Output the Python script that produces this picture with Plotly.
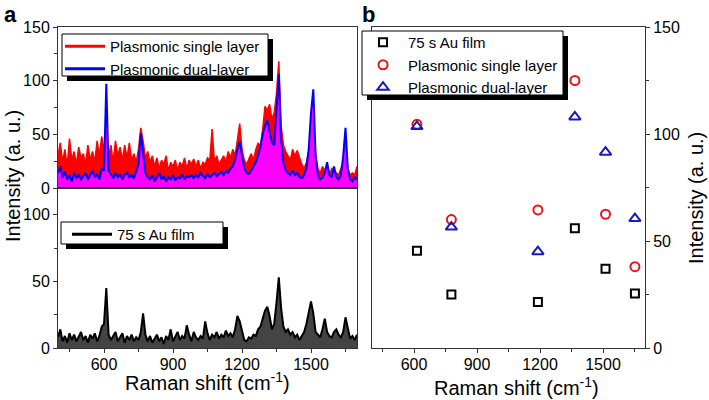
import plotly.graph_objects as go

shift_start, shift_stop, shift_step = 400, 1700, 10
raman_shift = list(range(shift_start, shift_stop + 1, shift_step))

single_layer = [
    30, 42, 24, 36, 20, 46, 26, 34, 22, 38,
    28, 32, 22, 40, 26, 34, 24, 44, 30, 48,
    36, 52, 30, 40, 24, 44, 30, 38, 26, 40,
    28, 42, 26, 32, 24, 36, 56, 44, 28, 34,
    24, 30, 20, 28, 18, 26, 22, 30, 16, 24,
    20, 26, 16, 24, 20, 28, 18, 26, 22, 27,
    20, 26, 18, 24, 22, 28, 26, 55, 24, 30,
    22, 26, 30, 24, 34, 28, 36, 30, 44, 60,
    36, 26, 22, 28, 32, 26, 36, 42, 38, 55,
    76, 72, 78, 64, 70, 88, 118, 58, 40, 34,
    30, 26, 36, 30, 35, 28, 22, 18, 24, 34,
    44, 60, 32, 18, 14, 20, 16, 22, 12, 18,
    16, 14, 12, 18, 22, 40, 18, 12, 14, 12,
    20,
]

dual_layer = [
    14, 20, 10, 15, 8, 12, 6, 14, 9, 12,
    8, 11, 14, 8, 12, 16, 10, 13, 8, 18,
    16, 97, 16, 12, 9, 14, 10, 13, 8, 12,
    14, 10, 12, 9, 16, 22, 51, 30, 14, 10,
    8, 12, 6, 10, 14, 8, 11, 6, 10, 8,
    12, 7, 10, 9, 13, 8, 11, 10, 12, 9,
    12, 10, 14, 11, 9, 13, 10, 12, 14, 11,
    13, 15, 12, 16, 14, 18, 20, 26, 36, 43,
    30, 18, 14, 13, 16, 20, 24, 30, 38, 50,
    58, 63, 54, 42, 40, 78, 106, 44, 24, 16,
    14, 12, 16, 12, 14, 10, 9, 12, 18, 36,
    70, 92, 30, 12, 8, 10, 14, 24, 12, 10,
    20, 10, 8, 12, 30, 56, 18, 8, 6, 10,
    8,
]

au_film = [
    8, 14, 5, 9, 4, 11, 6, 10, 5, 8,
    12, 6, 9, 4, 10, 7, 11, 5, 9, 16,
    18, 45, 10, 6, 9, 12, 5, 8, 11, 4,
    9, 6, 10, 5, 8, 6, 12, 26, 10, 5,
    9, 4, 7, 10, 5, 8, 3, 9, 6, 14,
    5, 8, 12, 6, 9, 7, 17, 10, 5, 12,
    8, 6, 9, 7, 20, 11, 6, 10, 8, 12,
    7, 10, 8, 13, 9, 11, 8, 14, 24, 20,
    12, 6, 5, 8, 7, 10, 9, 14, 16, 22,
    28, 31, 24, 14, 18, 34, 53, 30, 16, 12,
    14, 10, 12, 8, 10, 6, 9, 12, 18, 28,
    35, 26, 12, 10, 8, 14, 22, 12, 9, 8,
    12, 14, 10, 8, 12, 23, 14, 7, 9, 6,
    10,
]

# Peak intensities (panel b)
peak_shift = [614, 778, 1190, 1366, 1512, 1652]
peak_au_film = [45.5, 25, 21.5, 56, 37, 25.5]
peak_single = [104.5, 60, 64.5, 125, 62.5, 38]
peak_dual = [103.5, 56.5, 45, 108, 91.5, 60.5]

W, H = 709, 400
FONT = "Liberation Sans, Arial, sans-serif"


def px_x(p):
    return p / W


def px_y(p):
    return 1 - p / H


# 2. BUILD TRACES
fig = go.Figure()

fig.add_trace(go.Scatter(x=raman_shift, y=single_layer, name="Plasmonic single layer",
                         mode="lines", line=dict(color="#ff0000", width=1.5),
                         fill="tozeroy", fillcolor="#ff0000", showlegend=False,
                         xaxis="x", yaxis="y"))
fig.add_trace(go.Scatter(x=raman_shift, y=dual_layer, name="Plasmonic dual-layer",
                         mode="lines", line=dict(color="#0000ff", width=2),
                         fill="tozeroy", fillcolor="#ff00ff", showlegend=False,
                         xaxis="x", yaxis="y"))
fig.add_trace(go.Scatter(x=raman_shift, y=au_film, name="75 s Au film",
                         mode="lines", line=dict(color="#000000", width=2),
                         fill="tozeroy", fillcolor="#444444", showlegend=False,
                         xaxis="x2", yaxis="y2"))

# legend keys drawn as plain lines, like the original
for name, color, leg in [("Plasmonic single layer", "#ff0000", "legend"),
                         ("Plasmonic dual-layer", "#0000ff", "legend"),
                         ("75 s Au film", "#000000", "legend2")]:
    fig.add_trace(go.Scatter(x=[None], y=[None], name=name, mode="lines",
                             line=dict(color=color, width=3),
                             xaxis="x" if leg == "legend" else "x2",
                             yaxis="y" if leg == "legend" else "y2", legend=leg))

fig.add_trace(go.Scatter(x=peak_shift, y=peak_au_film, name="75 s Au film", mode="markers",
                         marker=dict(symbol="square-open", size=8, color="#000000", line=dict(width=2)),
                         xaxis="x3", yaxis="y3", legend="legend3"))
fig.add_trace(go.Scatter(x=peak_shift, y=peak_single, name="Plasmonic single layer", mode="markers",
                         marker=dict(symbol="circle-open", size=9, color="#e8141c", line=dict(width=2)),
                         xaxis="x3", yaxis="y3", legend="legend3"))
fig.add_trace(go.Scatter(x=peak_shift, y=peak_dual, name="Plasmonic dual-layer", mode="markers",
                         marker=dict(symbol="triangle-up-open", size=10, color="#1a1ab8", line=dict(width=2)),
                         xaxis="x3", yaxis="y3", legend="legend3"))

# 3. AXES
axis_common = dict(showline=True, linecolor="#333333", linewidth=1, mirror=True,
                   showgrid=False, zeroline=False, automargin=False,
                   tickfont=dict(family=FONT, size=16, color="black"),
                   ticks="outside", ticklen=4, tickcolor="#333333")
minor_y = dict(ticks="outside", ticklen=3, dtick=25, tickcolor="#333333")
minor_x = dict(ticks="outside", ticklen=3, dtick=150, tickcolor="#333333")

left_dom = [px_x(58), px_x(357)]
right_dom = [px_x(372), px_x(645)]

fig.update_layout(
    xaxis=dict(axis_common, domain=left_dom, range=[400, 1700], anchor="y",
               showticklabels=False, ticks=""),
    yaxis=dict(axis_common, domain=[px_y(188), px_y(27)], range=[0, 150], anchor="x",
               tick0=0, dtick=50, minor=minor_y),
    xaxis2=dict(axis_common, domain=left_dom, range=[400, 1700], anchor="y2",
                tick0=0, dtick=300, minor=minor_x, ticklabelstandoff=-2),
    yaxis2=dict(axis_common, domain=[px_y(348), px_y(188)], range=[0, 120], anchor="x2",
                tick0=0, dtick=50, minor=minor_y),
    xaxis3=dict(axis_common, domain=right_dom, range=[400, 1700], anchor="y3",
                tick0=0, dtick=300, minor=minor_x, ticklabelstandoff=-2),
    yaxis3=dict(axis_common, domain=[px_y(348), px_y(27)], range=[0, 150], anchor="x3", side="right",
                tick0=0, dtick=50, minor=minor_y),
)

# 4. LEGENDS (boxes with drop shadows drawn as shapes)
legend_font = dict(family=FONT, size=15, color="black")
legend_common = dict(bgcolor="rgba(0,0,0,0)", borderwidth=0, font=legend_font,
                     xanchor="left", yanchor="top", itemwidth=40, tracegroupgap=0)
fig.update_layout(
    legend=dict(legend_common, x=px_x(60), y=px_y(30)),
    legend2=dict(legend_common, x=px_x(67), y=px_y(218)),
    legend3=dict(legend_common, x=px_x(358), y=px_y(26)),
)

boxes = [(62, 34, 268, 76), (61, 222, 223, 244), (362, 31, 563, 95)]
shapes = []
for x0, y0, x1, y1 in boxes:
    shapes.append(dict(type="rect", xref="paper", yref="paper", layer="above",
                       x0=px_x(x0 + 5), x1=px_x(x1 + 5), y0=px_y(y0 + 5), y1=px_y(y1 + 5),
                       fillcolor="black", line=dict(width=0)))
    shapes.append(dict(type="rect", xref="paper", yref="paper", layer="above",
                       x0=px_x(x0), x1=px_x(x1), y0=px_y(y0), y1=px_y(y1),
                       fillcolor="white", line=dict(color="black", width=1)))

# 5. TITLES AND PANEL LABELS
title_font = dict(family=FONT, size=20, color="black")
label_font = dict(family=FONT, size=22, color="black")
annotations = [
    dict(text="<b>a</b>", x=px_x(10), y=1, yanchor="top", font=label_font),
    dict(text="<b>b</b>", x=px_x(368), y=1, yanchor="top", font=label_font),
    dict(text="Raman shift (cm<sup>-1</sup>)", x=px_x(207), y=px_y(381), font=title_font),
    dict(text="Raman shift (cm<sup>-1</sup>)", x=px_x(516), y=px_y(386), font=title_font),
    dict(text="Intensity (a. u.)", x=px_x(13), y=px_y(176), textangle=-90, font=title_font),
    dict(text="Intensity (a. u.)", x=px_x(696), y=px_y(198), textangle=-90, font=title_font),
]
for a in annotations:
    a.setdefault("yanchor", "middle")
    a.update(xref="paper", yref="paper", showarrow=False, xanchor="center")

fig.update_layout(
    width=W, height=H,
    margin=dict(l=0, r=0, t=0, b=0),
    paper_bgcolor="white", plot_bgcolor="white",
    font=dict(family=FONT, color="black"),
    shapes=shapes, annotations=annotations,
)

# drop the browser's default 8 px body margin so the figure fills the window
fig.write_html("out.html", config={"displayModeBar": False},
               post_script="document.body.style.margin='0';")
